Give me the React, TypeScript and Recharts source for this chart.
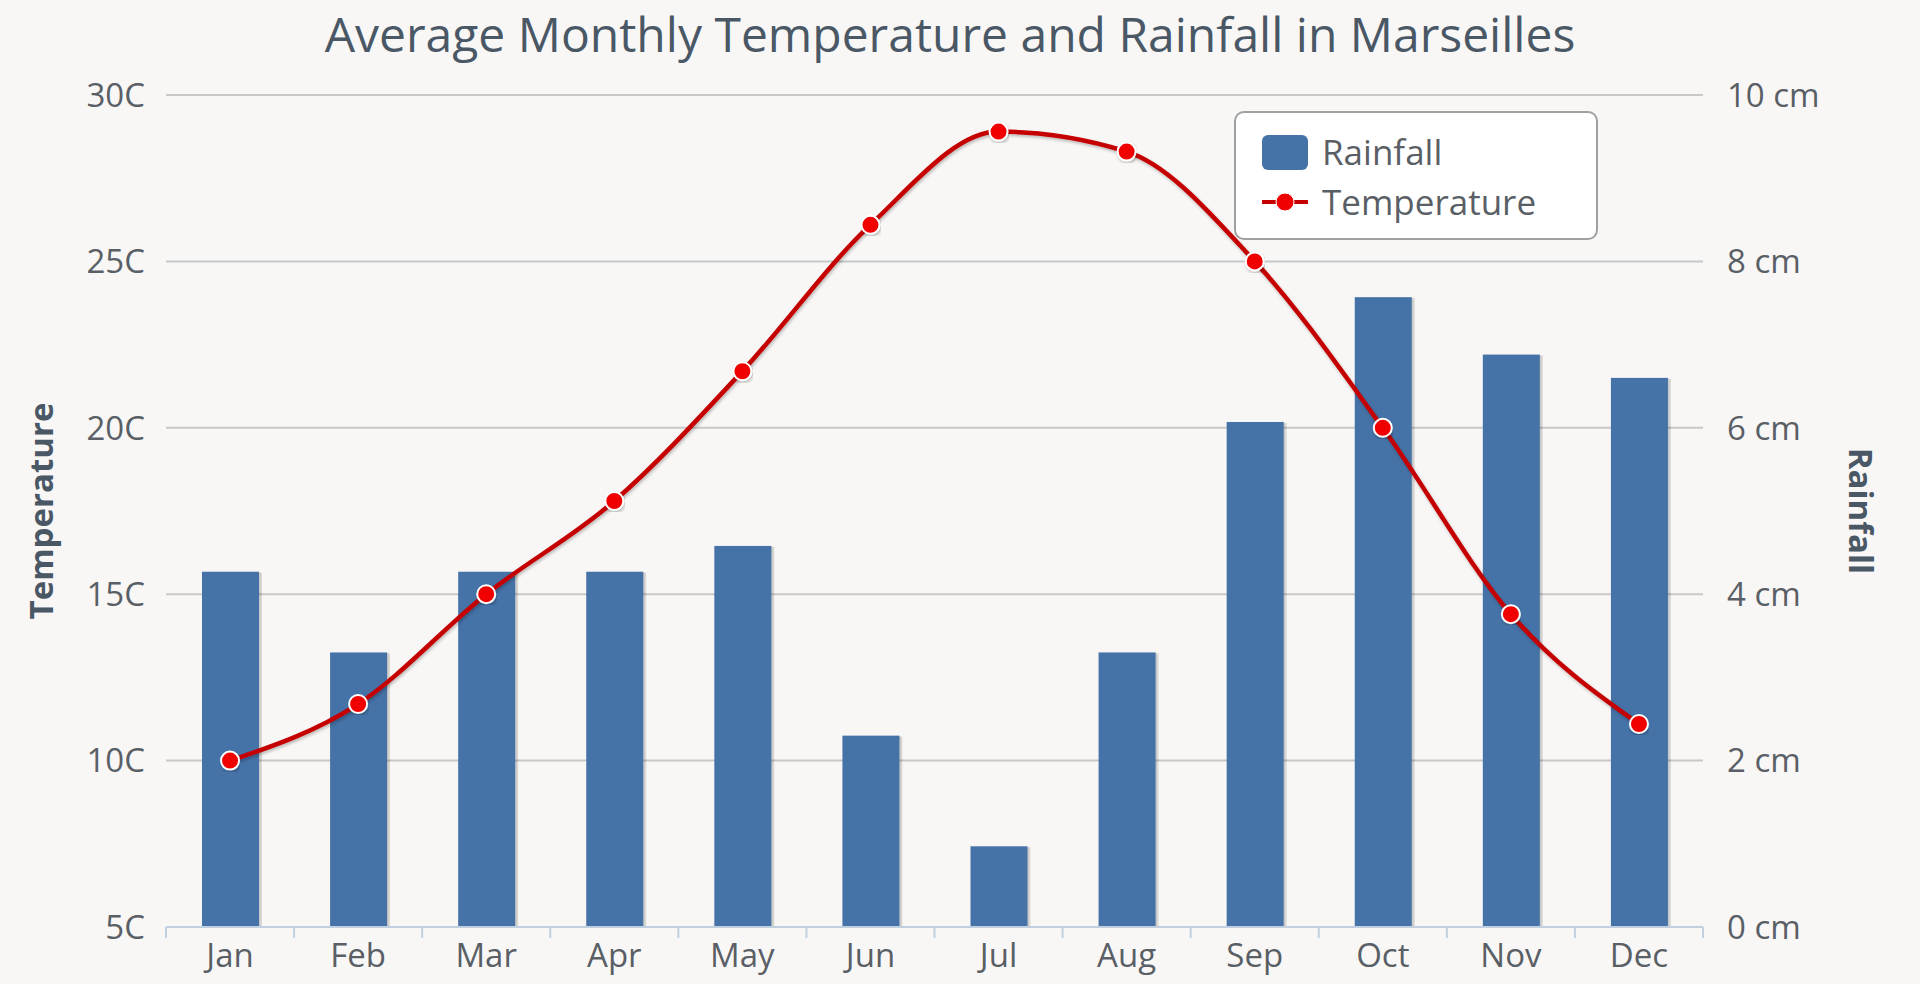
import React from 'react';
import { ComposedChart, Bar, Line, XAxis, YAxis, CartesianGrid, Legend } from 'recharts';

const months = ['Jan', 'Feb', 'Mar', 'Apr', 'May', 'Jun', 'Jul', 'Aug', 'Sep', 'Oct', 'Nov', 'Dec'];
const temperature = [10.0, 11.7, 15.0, 17.8, 21.7, 26.1, 28.9, 28.3, 25.0, 20.0, 14.4, 11.1];
const rainfall = [4.27, 3.3, 4.27, 4.27, 4.58, 2.3, 0.97, 3.3, 6.07, 7.57, 6.88, 6.6];
const tempTicks = [5, 10, 15, 20, 25, 30];
const rainTicks = [0, 2, 4, 6, 8, 10];

const data = months.map((m, i) => ({ month: m, Rainfall: rainfall[i], Temperature: temperature[i] }));

const W = 1920;
const H = 984;
const LEFT_W = 166;
const RIGHT_W = 217;
const PLOT_W = W - LEFT_W - RIGHT_W;
const BAND = PLOT_W / months.length;
const FONT = "'Open Sans', sans-serif";
const BG = '#f8f7f6';
const LABEL = '#5a5f66';
const TITLE = '#4a5866';
const BAR = '#4572A7';
const LINE = '#c40000';
const DOT = '#f00000';

const XTick = (props: any) => {
  const { x, y, payload, index } = props;
  return (
    <g>
      <line x1={x + BAND / 2} x2={x + BAND / 2} y1={y} y2={y + 11} stroke="#c0d0e0" strokeWidth={2} />
      {index === 0 && <line x1={x - BAND / 2} x2={x - BAND / 2} y1={y} y2={y + 11} stroke="#c0d0e0" strokeWidth={2} />}
      <text x={x} y={y + 17} dy="0.71em" textAnchor="middle" fill={LABEL} fontSize={33} fontFamily={FONT}>
        {payload.value}
      </text>
    </g>
  );
};

const BarShape = (props: any) => {
  const { x, y, width, height, fill } = props;
  if (height <= 0) return null;
  return (
    <g>
      <rect x={x + 3} y={y + 1} width={width} height={height} fill="rgba(0,0,0,0.12)" />
      <rect x={x + 1.5} y={y + 0.5} width={width} height={height} fill="rgba(0,0,0,0.08)" />
      <rect x={x} y={y} width={width} height={height} fill={fill} />
    </g>
  );
};

const renderLegend = (props: any) => {
  const payload = props.payload || [];
  return (
    <div
      style={{
        boxSizing: 'border-box',
        width: 364,
        height: 129,
        background: '#ffffff',
        border: '2px solid #a0a0a0',
        borderRadius: 10,
        padding: '14px 0 0 24px',
        fontFamily: FONT,
        fontSize: 35,
        color: LABEL,
      }}
    >
      {payload.map((item: any) => (
        <div key={item.value} style={{ display: 'flex', alignItems: 'center', height: 50 }}>
          <svg width={50} height={40} style={{ marginRight: 12 }}>
            {item.type === 'line' ? (
              <g>
                <line x1={2} x2={48} y1={20} y2={20} stroke={LINE} strokeWidth={4} />
                <circle cx={25} cy={20} r={9} fill={DOT} stroke="#fff" strokeWidth={1} />
              </g>
            ) : (
              <rect x={2} y={3} width={46} height={35} rx={6} fill={BAR} />
            )}
          </svg>
          <span style={{ lineHeight: '40px' }}>{item.value}</span>
        </div>
      ))}
    </div>
  );
};

export default function App() {
  return (
    <div style={{ position: 'absolute', left: 0, top: 0, width: W, height: H, background: BG, overflow: 'hidden' }}>
      <div
        style={{
          position: 'absolute',
          left: 0,
          top: 6,
          width: 1900,
          textAlign: 'center',
          fontFamily: FONT,
          fontSize: 48,
          lineHeight: '56px',
          color: TITLE,
        }}
      >
        Average Monthly Temperature and Rainfall in Marseilles
      </div>
      <div
        style={{
          position: 'absolute',
          left: 40,
          top: 511,
          transform: 'translate(-50%, -50%) rotate(-90deg)',
          fontFamily: FONT,
          fontSize: 33,
          fontWeight: 700,
          color: TITLE,
          whiteSpace: 'nowrap',
        }}
      >
        Temperature
      </div>
      <div
        style={{
          position: 'absolute',
          left: 1861,
          top: 511,
          transform: 'translate(-50%, -50%) rotate(90deg)',
          fontFamily: FONT,
          fontSize: 33,
          fontWeight: 700,
          color: TITLE,
          whiteSpace: 'nowrap',
        }}
      >
        Rainfall
      </div>
      <ComposedChart width={W} height={H} data={data} margin={{ top: 95, right: 0, bottom: 7, left: 0 }}>
        <defs>
          <filter id="lineShadow" x="-5%" y="-5%" width="110%" height="115%">
            <feDropShadow dx="1" dy="2" stdDeviation="1.5" floodColor="#000" floodOpacity="0.25" />
          </filter>
        </defs>
        <CartesianGrid vertical={false} stroke="#c8c8c8" strokeWidth={2} yAxisId="temp" xAxisId="cat" />
        <XAxis
          xAxisId="cat"
          dataKey="month"
          height={50}
          interval={0}
          tickLine={false}
          tickSize={0}
          tickMargin={0}
          axisLine={{ stroke: '#c0d0e0', strokeWidth: 2 }}
          tick={<XTick />}
        />
        <YAxis
          yAxisId="temp"
          orientation="left"
          width={LEFT_W}
          domain={[5, 30]}
          ticks={tempTicks}
          allowDataOverflow
          axisLine={false}
          tickLine={false}
          tickSize={0}
          tickMargin={21}
          tickFormatter={(v: number) => `${v}C`}
          tick={{ fill: LABEL, fontSize: 33, fontFamily: FONT }}
        />
        <YAxis
          yAxisId="rain"
          orientation="right"
          width={RIGHT_W}
          domain={[0, 10]}
          ticks={rainTicks}
          allowDataOverflow
          axisLine={false}
          tickLine={false}
          tickSize={0}
          tickMargin={24}
          tickFormatter={(v: number) => `${v} cm`}
          tick={{ fill: LABEL, fontSize: 33, fontFamily: FONT }}
        />
        <Legend
          layout="vertical"
          align="center"
          verticalAlign="middle"
          content={renderLegend}
          wrapperStyle={{ position: 'absolute', left: 1234, top: 111, width: 364, height: 129 }}
        />
        <Bar
          xAxisId="cat"
          yAxisId="rain"
          dataKey="Rainfall"
          name="Rainfall"
          fill={BAR}
          barSize={57}
          shape={<BarShape />}
          isAnimationActive={false}
          legendType="rect"
        />
        <Line
          xAxisId="cat"
          yAxisId="temp"
          type="monotone"
          dataKey="Temperature"
          name="Temperature"
          stroke={LINE}
          strokeWidth={4.5}
          filter="url(#lineShadow)"
          dot={{ r: 9, fill: DOT, stroke: '#ffffff', strokeWidth: 2 }}
          activeDot={false}
          isAnimationActive={false}
          legendType="line"
        />
      </ComposedChart>
    </div>
  );
}
